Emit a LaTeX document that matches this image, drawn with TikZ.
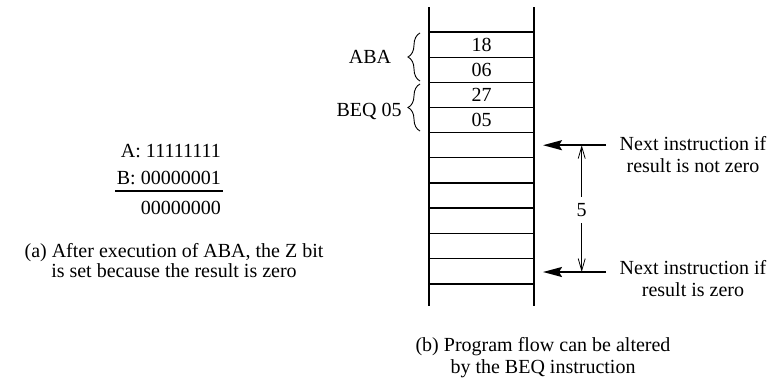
\documentclass[tikz,border=0pt]{standalone}
\usepackage{fontspec}
\setmainfont{Liberation Serif}
\usetikzlibrary{arrows.meta,decorations.pathreplacing}
\begin{document}
\begin{tikzpicture}[x=1pt,y=-1pt,
  lbl/.style={font=\fontsize{20}{22}\selectfont, inner sep=0pt},
  cell/.style={lbl, minimum width=105pt, minimum height=25.15pt, anchor=north west},
  ladder/.style={line width=2pt},
  rung/.style={line width=1.3pt},
  bigarrow/.style={line width=2pt, -{Stealth[length=19pt,width=10pt,inset=3pt]}},
  dimline/.style={line width=0.8pt, -{Straight Barb[length=12pt,width=7pt]}},
  br/.style={decorate, decoration={brace, amplitude=12pt}, line width=0.9pt}]
\useasboundingbox (0,0) rectangle (778,383);
% ladder cells
\node[cell] (c1) at (429,32) {18};
\node[cell] (c2) at (429,{32+1*25.15}) {06};
\node[cell] (c3) at (429,{32+2*25.15}) {27};
\node[cell] (c4) at (429,{32+3*25.15}) {05};
\foreach \i in {5,...,10} \node[cell] (c\i) at (429,{32+(\i-1)*25.15}) {};
\foreach \i in {1,...,10} \draw[rung] (c\i.north west) -- (c\i.north east);
\draw[rung] (c10.south west) -- (c10.south east);
\coordinate (topL) at (429,7);
\coordinate (botL) at (429,306);
\coordinate (topR) at (534,7);
\coordinate (botR) at (534,306);
\draw[ladder] (topL) -- (botL);
\draw[ladder] (topR) -- (botR);
% braces
\coordinate (b1s) at (420,81);
\coordinate (b1e) at (420,33);
\coordinate (b2s) at (420,131);
\coordinate (b2e) at (420,84);
\draw[br] (b1s) -- (b1e);
\draw[br] (b2s) -- (b2e);
\node[lbl, anchor=base] (aba) at (370,63) {ABA};
\node[lbl, anchor=base] (beq) at (369,116.7) {BEQ 05};
% arrows
\coordinate (a1s) at (606,145.2);
\coordinate (a1e) at (543,145.2);
\coordinate (a2s) at (606,272);
\coordinate (a2e) at (543,272);
\draw[bigarrow] (a1s) -- (a1e);
\draw[bigarrow] (a2s) -- (a2e);
\coordinate (d1) at (581.7,145.2);
\coordinate (d2) at (581.7,272);
\node[lbl, minimum height=26pt] (five) at (581.7,210) {5};
\draw[dimline] (five) -- (d1);
\draw[dimline] (five) -- (d2);
\node[lbl, align=center, anchor=north] (nz) at (693,136.3) {Next instruction if\\result is not zero};
\node[lbl, align=center, anchor=north] (zz) at (693,260.6) {Next instruction if\\result is zero};
% equation
\node[lbl, anchor=base east] (ea) at (221,157) {A: 11111111};
\node[lbl, anchor=base east] (eb) at (221,184) {B: 00000001};
\node[lbl, anchor=base east] (er) at (221,214) {00000000};
\draw[line width=1.8pt] ([xshift=-1.5pt,yshift=-7pt]eb.base west) -- ([xshift=1.5pt,yshift=-7pt]eb.base east);
% captions
\node[lbl, font=\fontsize{20}{20.5}\selectfont, align=center, anchor=north] (capa) at (174,243) {(a) After execution of ABA, the Z bit\\is set because the result is zero};
\node[lbl, align=center, anchor=north] (capb) at (543,337.3) {(b) Program flow can be altered\\by the BEQ instruction};
\end{tikzpicture}
\end{document}
